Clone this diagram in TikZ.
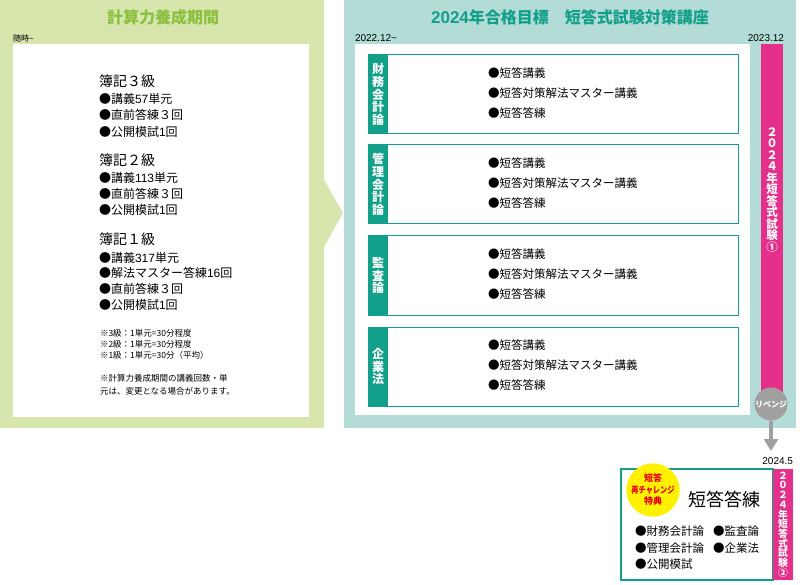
\documentclass[tikz,border=0pt]{standalone}
\usepackage{fontspec}
\setmainfont{Noto Sans CJK JP}
\newfontfamily\lat{Liberation Sans}
\usetikzlibrary{arrows.meta}
\definecolor{lgreen}{HTML}{D6E6AC}
\definecolor{dgreen}{HTML}{8CBF3F}
\definecolor{lteal}{HTML}{B2DCD5}
\definecolor{dteal}{HTML}{12A08A}
\definecolor{pinkc}{HTML}{E4308A}
\definecolor{grayc}{HTML}{A0A0A0}
\definecolor{yel}{HTML}{FFF100}
\definecolor{redc}{HTML}{E60012}
\begin{document}
\begin{tikzpicture}[x=1pt,y=-1pt,
  every node/.style={inner sep=0pt,outer sep=0pt},
  hd/.style={anchor=west,font=\fontsize{14}{14}\selectfont},
  item/.style={anchor=west,font=\fontsize{12}{12}\selectfont},
  note/.style={anchor=west,font=\fontsize{8.5}{8.5}\selectfont},
  date/.style={font=\fontsize{10}{10}\selectfont\lat},
  subjbox/.style={draw=dteal,line width=1pt,fill=white,minimum width=370pt,minimum height=79pt},
  strip/.style={fill=dteal,text=white,minimum width=20pt,minimum height=79pt,align=center,font=\fontsize{12}{12.8}\selectfont\bfseries},
  sitem/.style={anchor=west,font=\fontsize{11.5}{11.5}\selectfont},
  vbar/.style={text=white,align=center,font=\bfseries}
]
\useasboundingbox (0,0) rectangle (800,585);
% left panel
\fill[lgreen] (0,0) -- (324,0) -- (324,180) -- (343,213) -- (324,247) -- (324,428) -- (0,428) -- cycle;
\fill[white] (13,44) rectangle (309,417);
\node[text=dgreen,font=\fontsize{16}{16}\selectfont\bfseries] (t1) at (163,17) {計算力養成期間};
\node[anchor=west,font=\fontsize{8}{8}\selectfont] (d0) at (13,38) {随時{\lat\textasciitilde}};
\node[hd] (h3) at (99,81) {簿記３級};
\node[item] (i1) at (99,99) {●講義{\lat 57}単元};
\node[item] (i2) at (99,115) {●直前答練３回};
\node[item] (i3) at (99,132) {●公開模試{\lat 1}回};
\node[hd] (h2) at (99,160) {簿記２級};
\node[item] (i4) at (99,178) {●講義{\lat 113}単元};
\node[item] (i5) at (99,194) {●直前答練３回};
\node[item] (i6) at (99,210) {●公開模試{\lat 1}回};
\node[hd] (h1) at (99,239) {簿記１級};
\node[item] (i7) at (99,258) {●講義{\lat 317}単元};
\node[item] (i8) at (99,273) {●解法マスター答練{\lat 16}回};
\node[item] (i9) at (99,289) {●直前答練３回};
\node[item] (i10) at (99,305) {●公開模試{\lat 1}回};
\node[note] (n1) at (100,333) {※3級：1単元=30分程度};
\node[note] (n2) at (100,344) {※2級：1単元=30分程度};
\node[note] (n3) at (100,355) {※1級：1単元=30分（平均）};
\node[note,align=left,font=\fontsize{8.5}{13.5}\selectfont] (n4) at (100,385) {※計算力養成期間の講義回数・単\\元は、変更となる場合があります。};
% right panel
\fill[lteal] (344,0) rectangle (796,428);
\fill[white] (355,44) rectangle (750,415);
\node[text=dteal,font=\fontsize{16}{16}\selectfont\bfseries] (t2) at (570,17) {{\fontsize{17}{17}\selectfont\lat 2024}年合格目標　短答式試験対策講座};
\node[date,anchor=west] (d1) at (355,38) {2022.12\textasciitilde};
\node[date,anchor=east] (d2) at (784,38) {2023.12};
\fill[pinkc] (761,44) rectangle (783,400);
\node[vbar,font=\fontsize{11.5}{11.5}\selectfont\bfseries] (e1) at (772,190) {２\\０\\２\\４\\年\\短\\答\\式\\試\\験\\①};
% subject boxes
\foreach \t/\lab [count=\i] in {55/{財\\務\\会\\計\\論},145/{管\\理\\会\\計\\論},236/{監\\査\\論},327/{企\\業\\法}}{
  \node[subjbox,anchor=north west] (b\i) at (368,\t) {};
  \node[strip,anchor=north west] (s\i) at (b\i.north west) {\lab};
  \node[sitem] (p\i a) at (488,\t+18) {●短答講義};
  \node[sitem] (p\i b) at (488,\t+38.5) {●短答対策解法マスター講義};
  \node[sitem] (p\i c) at (488,\t+58) {●短答答練};
}
% revenge circle and arrow
\node[circle,fill=grayc,minimum size=33pt,text=white,font=\fontsize{8}{8}\selectfont\bfseries] (rv) at (771,404) {リベンジ};
\coordinate (tip) at (771,451);
\draw[grayc,line width=4pt,-{Triangle[width=14pt,length=12pt]}] (rv.south) -- (tip);
% bottom box
\node[date,anchor=east] (d3) at (793,461) {2024.5};
\node[draw=dteal,line width=1.2pt,fill=white,minimum width=152pt,minimum height=111pt,anchor=north west] (bb) at (621,469) {};
\node[fill=pinkc,minimum width=20pt,minimum height=111pt,anchor=north west] (pb) at (bb.north east) {};
\node[vbar,font=\fontsize{9.8}{9.7}\selectfont\bfseries] (e2) at (pb.center) {２\\０\\２\\４\\年\\短\\答\\式\\試\\験\\②};
\node[circle,fill=yel,minimum size=50pt,text=redc,align=center,font=\fontsize{9}{11.5}\selectfont\bfseries] (tk) at (653,490) {短答\\\scalebox{0.8}[1]{再チャレンジ}\\特典};
\node[font=\fontsize{18}{18}\selectfont] (ta) at (724,500) {短答答練};
\node[sitem] (q1) at (635,531) {●財務会計論};
\node[sitem] (q2) at (713,531) {●監査論};
\node[sitem] (q3) at (635,548) {●管理会計論};
\node[sitem] (q4) at (713,548) {●企業法};
\node[sitem] (q5) at (635,564) {●公開模試};
\end{tikzpicture}
\end{document}
